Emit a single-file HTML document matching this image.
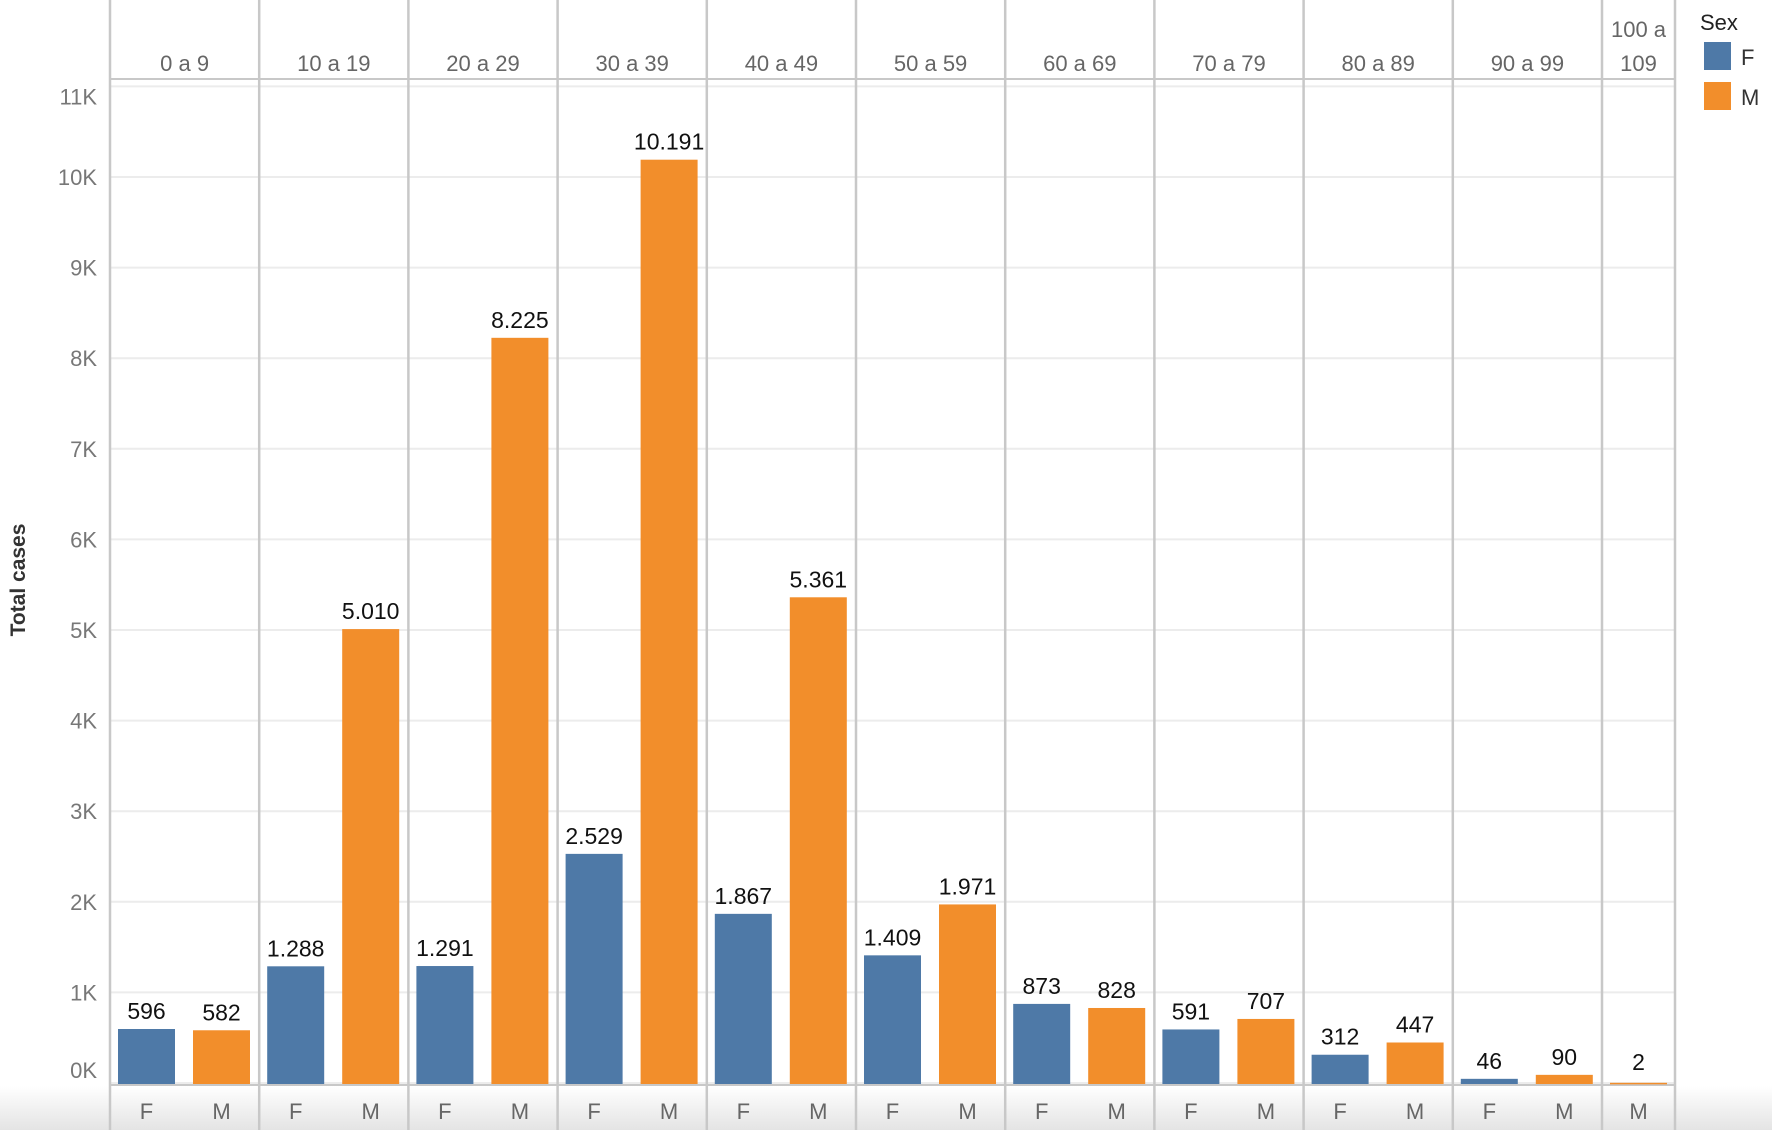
<!DOCTYPE html>
<html><head><meta charset="utf-8"><style>
body{margin:0;background:#fff;width:1772px;height:1130px;overflow:hidden;font-family:"Liberation Sans",sans-serif}
</style></head><body>
<svg id="chart" width="1772" height="1130" xmlns="http://www.w3.org/2000/svg">
<defs><linearGradient id="bandg" x1="0" y1="0" x2="0" y2="1"><stop offset="0" stop-color="#ffffff"/><stop offset="1" stop-color="#e4e4e4"/></linearGradient></defs>
<rect x="0" y="1086" width="1772" height="44" fill="url(#bandg)"/>
<g id="grid"></g><g id="bars"></g><g id="labels"></g>
<text x="25" y="580" transform="rotate(-90 25 580)" text-anchor="middle" font-size="21" font-weight="bold" fill="#333">Total cases</text>
<g>
<text x="1700" y="30" font-size="22" fill="#222">Sex</text>
<rect x="1704" y="42" width="27" height="28" fill="#4e79a7"/>
<text x="1741" y="65" font-size="22" fill="#333">F</text>
<rect x="1704" y="82" width="27" height="28" fill="#f28e2b"/>
<text x="1741" y="105" font-size="22" fill="#333">M</text>
</g>
</svg>
<script>
const groups=["0 a 9","10 a 19","20 a 29","30 a 39","40 a 49","50 a 59","60 a 69","70 a 79","80 a 89","90 a 99","100 a 109"];
const femaleValues=[596,1288,1291,2529,1867,1409,873,591,312,46,null];
const maleValues=[582,5010,8225,10191,5361,1971,828,707,447,90,2];
const femaleLabels=["596","1.288","1.291","2.529","1.867","1.409","873","591","312","46",""];
const maleLabels=["582","5.010","8.225","10.191","5.361","1.971","828","707","447","90","2"];
const yTicks=[0,1000,2000,3000,4000,5000,6000,7000,8000,9000,10000,11000];
const yTickLabels=["0K","1K","2K","3K","4K","5K","6K","7K","8K","9K","10K","11K"];

const NS="http://www.w3.org/2000/svg";
const left=110,pw=149.2,base=1083,scale=0.0906,plotTop=80;
const lastW=73;
function yPos(v){return base-v*scale;}
function px(i){return left+i*pw;}
function mk(tag,attrs,parent,text){const e=document.createElementNS(NS,tag);for(const k in attrs)e.setAttribute(k,attrs[k]);if(text!=null)e.textContent=text;parent.appendChild(e);return e;}
const grid=document.getElementById('grid'),bars=document.getElementById('bars'),labels=document.getElementById('labels');
const right=px(10)+lastW;
yTicks.forEach((t,i)=>{
  const l=mk('line',{x1:left,x2:right,y1:yPos(t),y2:yPos(t),stroke:'#ececec','stroke-width':2},grid);
  
  
  let ly=yPos(t)+8;
  if(i===0) ly-=13;
  if(i===yTicks.length-1) ly+=10;
  const tx=mk('text',{x:97,y:ly,'text-anchor':'end','font-size':22,fill:'#777'},labels,yTickLabels[i]);
  
  
});
const hl=mk('line',{x1:left,x2:right,y1:79,y2:79,stroke:'#c8c8c8','stroke-width':2},grid);


const bl=mk('line',{x1:left,x2:right,y1:base+2,y2:base+2,stroke:'#c8c8c8','stroke-width':2},grid);


for(let i=0;i<=groups.length;i++){
  const x=i<groups.length?px(i):right;
  const l=mk('line',{x1:x,x2:x,y1:0,y2:1130,stroke:'#c8c8c8','stroke-width':2.5},grid);
  
  
}
groups.forEach((g,i)=>{
  const x0=px(i);
  const last=i===groups.length-1;
  const cx=last?x0+lastW/2:x0+pw/2;
  if(last){
    const a=mk('text',{x:cx,y:37,'text-anchor':'middle','font-size':22,fill:'#666'},labels,'100 a');
    
    
    const b=mk('text',{x:cx,y:71,'text-anchor':'middle','font-size':22,fill:'#666'},labels,'109');
    
    
  }else{
    const h=mk('text',{x:cx,y:71,'text-anchor':'middle','font-size':22,fill:'#666'},labels,g);
    
    
  }
  const slots=last?[['M',maleValues[i],maleLabels[i],'#f28e2b',cx]]:[['F',femaleValues[i],femaleLabels[i],'#4e79a7',x0+8+28.5],['M',maleValues[i],maleLabels[i],'#f28e2b',x0+83+28.5]];
  slots.forEach(([s,v,lab,col,c])=>{
    if(v!=null){
      const r=mk('rect',{x:c-28.5,y:yPos(v),width:57,height:Math.max(base-yPos(v),0.5)+1,fill:col},bars);
      
      
      const t=mk('text',{x:c,y:Math.min(yPos(v),base-3)-10,'text-anchor':'middle','font-size':23,fill:'#111'},labels,lab);
      
      
    }
    const xl=mk('text',{x:c,y:1119,'text-anchor':'middle','font-size':22,fill:'#666'},labels,s);
    
    
  });
});
</script>
</body></html>
